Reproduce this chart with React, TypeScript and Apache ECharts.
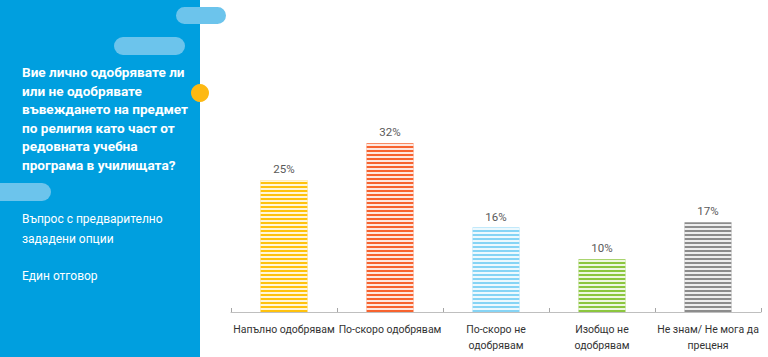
import React, { useEffect, useRef } from "react";
import * as echarts from "echarts";

const categories = [
  "Напълно одобрявам",
  "По-скоро одобрявам",
  "По-скоро не\nодобрявам",
  "Изобщо не\nодобрявам",
  "Не знам/ Не мога да\nпреценя",
];
const values = [25, 32, 16, 10, 17];
const barColors = ["#FFC20E", "#F7632F", "#86D4F5", "#8CC63F", "#8C8C8C"];

const titleText =
  "Вие лично одобрявате ли\nили не одобрявате\nвъвеждането на предмет\nпо религия като част от\nредовната учебна\nпрограма в училищата?";
const subText1 = "Въпрос с предварително\nзададени опции";
const subText2 = "Един отговор";

export default function App() {
  const ref = useRef<HTMLDivElement>(null);
  useEffect(() => {
    if (!ref.current) return;
    const chart = echarts.init(ref.current, null, { renderer: "svg" });
    chart.setOption({
      animation: false,
      backgroundColor: "#ffffff",
      grid: { left: 231, right: 7, top: 101, bottom: 45 },
      xAxis: {
        type: "category",
        data: categories,
        axisLine: { lineStyle: { color: "#BFBFBF", width: 1 } },
        axisTick: { show: true, length: 4, inside: true, lineStyle: { color: "#A6A6A6" } },
        axisLabel: {
          color: "#333333",
          fontSize: 10.5,
          fontFamily: "Roboto",
          lineHeight: 16,
          margin: 9,
          interval: 0,
        },
      },
      yAxis: {
        type: "value",
        min: 0,
        max: 40,
        show: false,
        splitLine: { show: false },
      },
      series: [
        {
          type: "bar",
          barWidth: 47,
          data: values.map((v, i) => ({
            value: v,
            itemStyle: {
              color: barColors[i],
              decal: {
                symbol: "rect",
                symbolSize: 1,
                color: "rgba(255,255,255,0.85)",
                dashArrayX: [1, 0],
                dashArrayY: [1.5, 1.5],
                rotation: 0,
              },
            },
          })),
          label: {
            show: true,
            position: "top",
            distance: 5,
            formatter: "{c}%",
            color: "#595959",
            fontSize: 11.5,
            fontFamily: "Roboto",
          },
        },
      ],
      graphic: [
        { type: "rect", shape: { x: 0, y: 0, width: 200, height: 357 }, style: { fill: "#009FDF" } },
        { type: "rect", shape: { x: 176, y: 7, width: 50, height: 17, r: 8.5 }, style: { fill: "#6CC4EC" } },
        { type: "rect", shape: { x: 114, y: 37, width: 71, height: 18, r: 9 }, style: { fill: "#6CC4EC" } },
        { type: "rect", shape: { x: -20, y: 183, width: 71, height: 18, r: 9 }, style: { fill: "#6CC4EC" } },
        { type: "circle", shape: { cx: 200, cy: 93, r: 9 }, style: { fill: "#FDB913" } },
        {
          type: "text",
          x: 22,
          y: 63,
          style: {
            text: titleText,
            fill: "#ffffff",
            font: "bold 13.6px Roboto",
            lineHeight: 18.5,
          },
        },
        {
          type: "text",
          x: 22,
          y: 209,
          style: {
            text: subText1,
            fill: "#ffffff",
            font: "12px Roboto",
            lineHeight: 20,
          },
        },
        {
          type: "text",
          x: 22,
          y: 266,
          style: {
            text: subText2,
            fill: "#ffffff",
            font: "12px Roboto",
            lineHeight: 20,
          },
        },
      ],
    });
    return () => chart.dispose();
  }, []);
  return (
    <div
      ref={ref}
      style={{ position: "fixed", left: 0, top: 0, width: 768, height: 357 }}
    />
  );
}
